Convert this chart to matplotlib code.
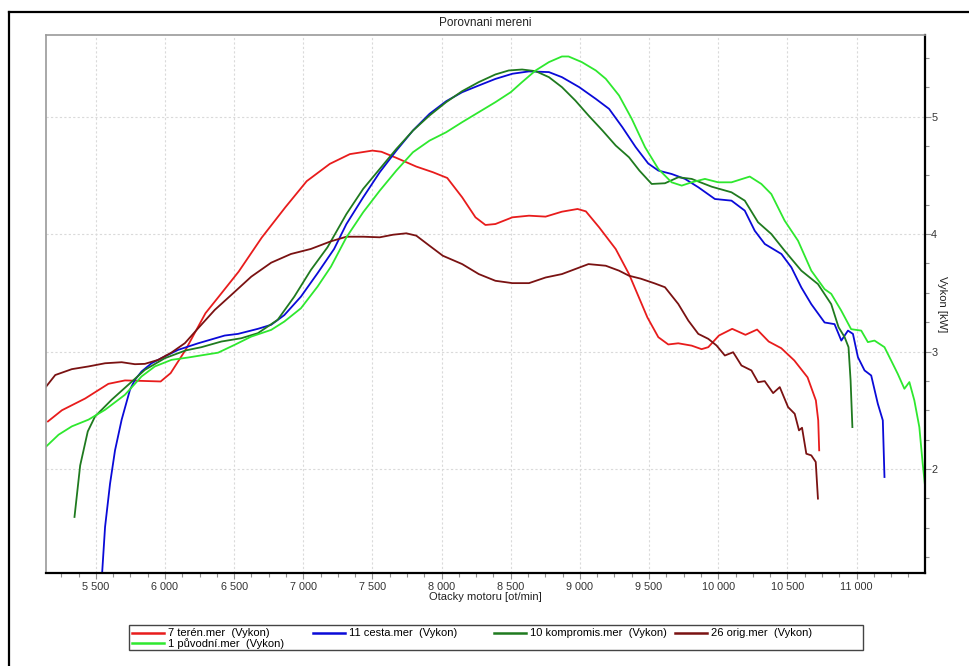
import matplotlib
matplotlib.use("Agg")
import matplotlib.pyplot as plt
from matplotlib.ticker import MultipleLocator, FuncFormatter
from matplotlib.lines import Line2D
from matplotlib.patches import Rectangle

plt.rcParams['font.family'] = ['Liberation Sans', 'DejaVu Sans']

title = "Porovnani mereni"
xlabel = "Otacky motoru [ot/min]"
ylabel = "Vykon [kW]"

names = ["7 terén.mer  (Vykon)", "11 cesta.mer  (Vykon)", "10 kompromis.mer  (Vykon)",
         "26 orig.mer  (Vykon)", "1 původní.mer  (Vykon)"]
colors = ["#e81c1c", "#0a0ad8", "#1f7a1f", "#7a1212", "#2ee82e"]

red_rpm = [5154, 5255, 5423, 5591, 5711, 5831, 5969, 6041, 6149, 6293, 6389, 6533, 6700, 6870, 7025,
           7192, 7337, 7500, 7565, 7673, 7817, 7937, 8041, 8149, 8245, 8317, 8389, 8512, 8632, 8752,
           8870, 8983, 9043, 9139, 9259, 9355, 9488, 9567, 9639, 9711, 9808, 9880, 9928, 10005,
           10101, 10197, 10281, 10365, 10456, 10550, 10646, 10706, 10723, 10730]
red_kw = [2.405, 2.50, 2.60, 2.725, 2.754, 2.75, 2.745, 2.816, 3.014, 3.326, 3.467, 3.68, 3.97, 4.227, 4.45,
          4.597, 4.68, 4.71, 4.70, 4.648, 4.574, 4.526, 4.477, 4.312, 4.142, 4.077, 4.085, 4.142, 4.156, 4.148,
          4.19, 4.213, 4.193, 4.057, 3.872, 3.659, 3.29, 3.122, 3.06, 3.07, 3.05, 3.02, 3.037, 3.136,
          3.193, 3.142, 3.187, 3.085, 3.028, 2.924, 2.78, 2.584, 2.414, 2.159]

blue_rpm = [5545, 5567, 5603, 5639, 5687, 5747, 5783, 5831, 5903, 5999, 6095, 6240, 6432, 6528, 6672,
            6767, 6863, 6983, 7103, 7223, 7312, 7433, 7553, 7673, 7793, 7913, 8033, 8149, 8269,
            8389, 8512, 8632, 8776, 8870, 8995, 9115, 9211, 9307, 9403, 9494, 9567, 9663, 9760,
            9856, 9976, 10096, 10192, 10264, 10337, 10457, 10529, 10601, 10673, 10769, 10841, 10890,
            10938, 10974, 11010, 11058, 11106, 11154, 11190, 11202]
blue_kw = [1.10, 1.507, 1.875, 2.159, 2.42, 2.674, 2.759, 2.83, 2.90, 2.958, 3.014, 3.07, 3.136, 3.15, 3.193,
           3.227, 3.31, 3.467, 3.666, 3.873, 4.085, 4.312, 4.526, 4.71, 4.881, 5.023, 5.13, 5.207, 5.264,
           5.32, 5.364, 5.384, 5.378, 5.335, 5.25, 5.15, 5.065, 4.909, 4.74, 4.60, 4.54, 4.511, 4.469,
           4.398, 4.298, 4.284, 4.199, 4.028, 3.915, 3.83, 3.716, 3.545, 3.403, 3.247, 3.233, 3.093,
           3.178, 3.15, 2.952, 2.839, 2.796, 2.555, 2.414, 1.932]

dkgreen_rpm = [5346, 5387, 5442, 5495, 5615, 5735, 5855, 5999, 6149, 6264, 6408, 6552, 6672, 6815, 6935,
               7055, 7175, 7312, 7433, 7553, 7673, 7793, 7913, 8033, 8149, 8269, 8389, 8486, 8582,
               8680, 8776, 8870, 8967, 9062, 9163, 9259, 9355, 9430, 9519, 9615, 9711, 9808, 9952,
               10096, 10192, 10288, 10384, 10480, 10601, 10721, 10817, 10870, 10914, 10942, 10957, 10970]
dkgreen_kw = [1.592, 2.03, 2.32, 2.448, 2.59, 2.717, 2.844, 2.943, 3.009, 3.037, 3.085, 3.113, 3.156, 3.27, 3.467,
              3.694, 3.887, 4.17, 4.384, 4.554, 4.724, 4.88, 5.009, 5.122, 5.216, 5.293, 5.358, 5.392, 5.40,
              5.386, 5.335, 5.25, 5.136, 5.009, 4.881, 4.753, 4.653, 4.54, 4.426, 4.432, 4.483, 4.469, 4.403,
              4.355, 4.284, 4.10, 4.0, 3.858, 3.688, 3.574, 3.403, 3.207, 3.122, 3.037, 2.754, 2.357]

maroon_rpm = [5140, 5207, 5327, 5447, 5567, 5687, 5783, 5855, 5951, 6047, 6144, 6240, 6360, 6480, 6624,
              6768, 6911, 7055, 7200, 7312, 7433, 7553, 7649, 7745, 7817, 7913, 8009, 8149, 8269,
              8389, 8512, 8632, 8752, 8870, 8967, 9062, 9187, 9283, 9355, 9440, 9540, 9615, 9711,
              9784, 9856, 9928, 9988, 10048, 10108, 10168, 10240, 10288, 10336, 10397, 10445, 10505,
              10553, 10584, 10606, 10637, 10673, 10705, 10721]
maroon_kw = [2.70, 2.80, 2.85, 2.873, 2.90, 2.909, 2.892, 2.895, 2.929, 2.991, 3.071, 3.198, 3.354, 3.482, 3.637,
             3.756, 3.83, 3.873, 3.938, 3.977, 3.977, 3.972, 3.994, 4.006, 3.986, 3.90, 3.815, 3.744, 3.659,
             3.602, 3.582, 3.582, 3.63, 3.659, 3.702, 3.744, 3.73, 3.688, 3.645, 3.62, 3.58, 3.547, 3.405,
             3.263, 3.15, 3.108, 3.051, 2.966, 2.994, 2.881, 2.839, 2.739, 2.748, 2.646, 2.697, 2.527,
             2.47, 2.329, 2.351, 2.13, 2.116, 2.06, 1.748]

green_rpm = [5140, 5231, 5327, 5447, 5567, 5711, 5831, 5927, 6047, 6168, 6288, 6384, 6504, 6624, 6768,
             6863, 6983, 7103, 7200, 7312, 7433, 7553, 7673, 7793, 7913, 8033, 8149, 8269, 8389,
             8500, 8582, 8680, 8776, 8870, 8918, 9014, 9115, 9187, 9283, 9375, 9471, 9567, 9663,
             9736, 9808, 9904, 10000, 10096, 10228, 10312, 10384, 10480, 10577, 10673, 10769, 10817,
             10889, 10961, 11034, 11082, 11130, 11202, 11250, 11298, 11346, 11382, 11418, 11454, 11478, 11495]
green_kw = [2.19, 2.292, 2.363, 2.42, 2.504, 2.632, 2.788, 2.873, 2.929, 2.949, 2.972, 2.99, 3.057, 3.127, 3.184,
            3.255, 3.368, 3.552, 3.722, 3.972, 4.185, 4.369, 4.54, 4.696, 4.795, 4.866, 4.952, 5.037, 5.122,
            5.207, 5.293, 5.392, 5.463, 5.511, 5.511, 5.463, 5.392, 5.321, 5.179, 4.98, 4.739, 4.554, 4.44,
            4.412, 4.44, 4.469, 4.44, 4.44, 4.489, 4.426, 4.34, 4.114, 3.943, 3.688, 3.531, 3.491,
            3.349, 3.19, 3.178, 3.08, 3.093, 3.037, 2.924, 2.81, 2.683, 2.74, 2.584, 2.357, 2.05, 1.86]

series = [(red_rpm, red_kw), (blue_rpm, blue_kw), (dkgreen_rpm, dkgreen_kw),
          (maroon_rpm, maroon_kw), (green_rpm, green_kw)]

W, H = 970, 666
fig = plt.figure(figsize=(W / 100, H / 100), dpi=100)
ax = fig.add_axes([46 / W, 1 - 573 / H, (925 - 46) / W, (573 - 34.5) / H])

handles = []
for (xs, ys), c, n in zip(series, colors, names):
    h, = ax.plot(xs, ys, color=c, lw=1.3, label=n, solid_joinstyle='round')
    handles.append(h)

ax.set_xlim(5140, 11495)
ax.set_ylim(1.115, 5.698)

ax.xaxis.set_major_locator(MultipleLocator(500))
ax.xaxis.set_minor_locator(MultipleLocator(125))
ax.yaxis.set_major_locator(MultipleLocator(1))
ax.yaxis.set_minor_locator(MultipleLocator(0.25))
ax.xaxis.set_major_formatter(FuncFormatter(lambda v, p: f"{int(v):,}".replace(",", " ")))
ax.yaxis.tick_right()
ax.yaxis.set_label_position("right")
ax.tick_params(axis='both', which='both', direction='out', colors='#909090', labelcolor='#333333',
               labelsize=7.8)
ax.tick_params(axis='both', which='major', length=4, width=0.8)
ax.tick_params(axis='both', which='minor', length=3, width=0.8)
ax.tick_params(axis='x', pad=2.5)
ax.tick_params(axis='y', pad=0.5)

ax.grid(True, which='major', color='#dadada', lw=0.8, linestyle=(0, (2, 2)))
ax.set_axisbelow(True)

for s in ['left', 'top']:
    ax.spines[s].set_color('#9a9a9a')
    ax.spines[s].set_linewidth(1.2)
for s in ['right', 'bottom']:
    ax.spines[s].set_color('#000000')
    ax.spines[s].set_linewidth(1.6)

ax.set_title(title, fontsize=8.5, color='#222222', pad=6)
ax.set_xlabel(xlabel, fontsize=8, color='#222222', labelpad=0)
ax.set_ylabel(ylabel, fontsize=8, color='#222222', rotation=270, labelpad=7)

# outer frame (left and top edges)
fig.add_artist(Line2D([9 / W, 9 / W], [0, 1 - 12 / H], transform=fig.transFigure, color='black', lw=1.6))
fig.add_artist(Line2D([9 / W, 1], [1 - 12 / H, 1 - 12 / H], transform=fig.transFigure, color='black', lw=1.6))

# legend box
fig.add_artist(Rectangle((129 / W, 1 - 650 / H), (863 - 129) / W, (650 - 624.5) / H,
                         transform=fig.transFigure, fill=False, edgecolor='#444444', lw=1.0))
col_x = [132, 313, 494, 675]
cols = [[handles[0], handles[4]], [handles[1]], [handles[2]], [handles[3]]]
for cx, hs in zip(col_x, cols):
    leg = fig.legend(handles=hs, labels=[h.get_label() for h in hs], loc='upper left',
                     bbox_to_anchor=(cx / W, 1 - 628.5 / H), frameon=False, fontsize=8,
                     handlelength=2.9, handletextpad=0.35, borderpad=0.0, labelspacing=0.0,
                     borderaxespad=0.0)
    for line in leg.get_lines():
        line.set_linewidth(1.8)

fig.savefig("out.png", dpi=100)
